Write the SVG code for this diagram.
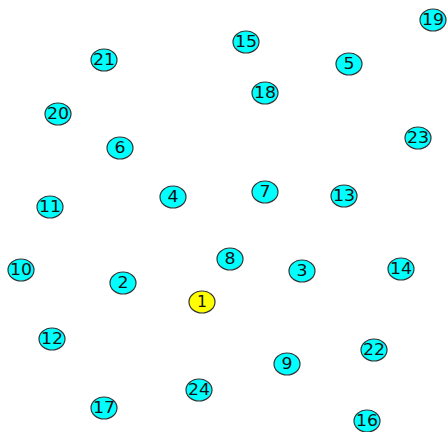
<svg xmlns="http://www.w3.org/2000/svg" width="448" height="432" viewBox="0 0 448 432">
<style>
.n ellipse{fill:#00ffff;stroke:#333;stroke-width:1.2}
.n.y ellipse{fill:#ffff00}
.n text{font-family:"DejaVu Sans",sans-serif;font-size:15px;fill:#111;text-anchor:middle;dominant-baseline:central}
</style>
<rect width="448" height="432" fill="#fff"/>
<g id="connectors"></g>
<g id="n1" class="n y"><ellipse cx="202" cy="302" rx="13" ry="11"/><text x="202" y="302" textLength="10" lengthAdjust="spacingAndGlyphs">1</text></g>
<g id="n2" class="n"><ellipse cx="123" cy="283" rx="13" ry="11"/><text x="123" y="283" textLength="11" lengthAdjust="spacingAndGlyphs">2</text></g>
<g id="n3" class="n"><ellipse cx="302" cy="271" rx="13" ry="11"/><text x="302" y="271" textLength="11" lengthAdjust="spacingAndGlyphs">3</text></g>
<g id="n4" class="n"><ellipse cx="173" cy="197" rx="13" ry="11"/><text x="173" y="197" textLength="11" lengthAdjust="spacingAndGlyphs">4</text></g>
<g id="n5" class="n"><ellipse cx="349" cy="64" rx="13" ry="11"/><text x="349" y="64" textLength="11" lengthAdjust="spacingAndGlyphs">5</text></g>
<g id="n6" class="n"><ellipse cx="120" cy="148" rx="13" ry="11"/><text x="120" y="148" textLength="11" lengthAdjust="spacingAndGlyphs">6</text></g>
<g id="n7" class="n"><ellipse cx="265" cy="192" rx="13" ry="11"/><text x="265" y="192" textLength="11" lengthAdjust="spacingAndGlyphs">7</text></g>
<g id="n8" class="n"><ellipse cx="230" cy="259" rx="13" ry="11"/><text x="230" y="259" textLength="11" lengthAdjust="spacingAndGlyphs">8</text></g>
<g id="n9" class="n"><ellipse cx="287" cy="364" rx="13" ry="11"/><text x="287" y="364" textLength="11" lengthAdjust="spacingAndGlyphs">9</text></g>
<g id="n10" class="n"><ellipse cx="21" cy="270" rx="13" ry="11"/><text x="21" y="270" textLength="22" lengthAdjust="spacingAndGlyphs">10</text></g>
<g id="n11" class="n"><ellipse cx="50" cy="207" rx="13" ry="11"/><text x="50" y="207" textLength="22" lengthAdjust="spacingAndGlyphs">11</text></g>
<g id="n12" class="n"><ellipse cx="52" cy="339" rx="13" ry="11"/><text x="52" y="339" textLength="22" lengthAdjust="spacingAndGlyphs">12</text></g>
<g id="n13" class="n"><ellipse cx="344" cy="196" rx="13" ry="11"/><text x="344" y="196" textLength="22" lengthAdjust="spacingAndGlyphs">13</text></g>
<g id="n14" class="n"><ellipse cx="401" cy="269" rx="13" ry="11"/><text x="401" y="269" textLength="22" lengthAdjust="spacingAndGlyphs">14</text></g>
<g id="n15" class="n"><ellipse cx="246" cy="42" rx="13" ry="11"/><text x="246" y="42" textLength="22" lengthAdjust="spacingAndGlyphs">15</text></g>
<g id="n16" class="n"><ellipse cx="367" cy="421" rx="13" ry="11"/><text x="367" y="421" textLength="22" lengthAdjust="spacingAndGlyphs">16</text></g>
<g id="n17" class="n"><ellipse cx="104" cy="408" rx="13" ry="11"/><text x="104" y="408" textLength="22" lengthAdjust="spacingAndGlyphs">17</text></g>
<g id="n18" class="n"><ellipse cx="265" cy="93" rx="13" ry="11"/><text x="265" y="93" textLength="22" lengthAdjust="spacingAndGlyphs">18</text></g>
<g id="n19" class="n"><ellipse cx="433" cy="20" rx="13" ry="11"/><text x="433" y="20" textLength="22" lengthAdjust="spacingAndGlyphs">19</text></g>
<g id="n20" class="n"><ellipse cx="58" cy="114" rx="13" ry="11"/><text x="58" y="114" textLength="22" lengthAdjust="spacingAndGlyphs">20</text></g>
<g id="n21" class="n"><ellipse cx="104" cy="60" rx="13" ry="11"/><text x="104" y="60" textLength="22" lengthAdjust="spacingAndGlyphs">21</text></g>
<g id="n22" class="n"><ellipse cx="374" cy="350" rx="13" ry="11"/><text x="374" y="350" textLength="22" lengthAdjust="spacingAndGlyphs">22</text></g>
<g id="n23" class="n"><ellipse cx="418" cy="138" rx="13" ry="11"/><text x="418" y="138" textLength="22" lengthAdjust="spacingAndGlyphs">23</text></g>
<g id="n24" class="n"><ellipse cx="199" cy="390" rx="13" ry="11"/><text x="199" y="390" textLength="22" lengthAdjust="spacingAndGlyphs">24</text></g>
</svg>
